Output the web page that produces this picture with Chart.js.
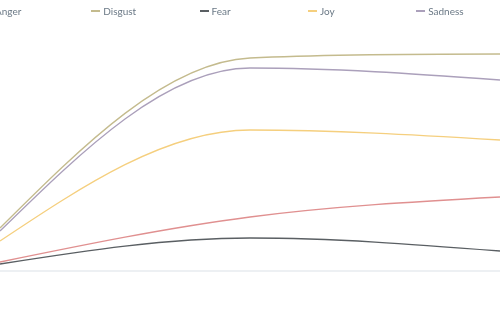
<!DOCTYPE html>
<html>
<head>
<meta charset="utf-8">
<script src="https://cdn.jsdelivr.net/npm/chart.js@4"></script>
<style>
    body { margin: 0; background: #fff; overflow: hidden; }
    #wrap { position: relative; width: 500px; height: 330px; }
    #legend { position: absolute; top: 4px; left: -17px; display: flex; white-space: nowrap; }
    #legend .item { width: 108.3px; display: flex; align-items: center; font: 10px Lato, sans-serif; color: #6b7986; height: 14px; }
    #legend .mark { width: 9px; height: 1.5px; margin-right: 3px; }
</style>
</head>
<body>
<div id="wrap">
    <div id="legend"></div>
    <canvas id="emotionChart"></canvas>
</div>
<script>
// three time steps, hidden on the axis
const labels = ['Start', 'Middle', 'End'];

const emotions = ['Anger', 'Disgust', 'Fear', 'Joy', 'Sadness'];
const colors = ['#e09090', '#c4bb8e', '#5a5f63', '#f5cf7e', '#aba0bb'];

const anger = [0.036, 0.216, 0.296];
const disgust = [0.172, 0.852, 0.868];
const fear = [0.028, 0.132, 0.08];
const joy = [0.12, 0.564, 0.524];
const sadness = [0.16, 0.812, 0.764];

const series = [anger, disgust, fear, joy, sadness];

// html legend, evenly spaced like the original
const legend = document.getElementById('legend');
emotions.forEach((name, i) => {
    const item = document.createElement('div');
    item.className = 'item';
    const mark = document.createElement('span');
    mark.className = 'mark';
    mark.style.background = colors[i];
    item.appendChild(mark);
    item.appendChild(document.createTextNode(name));
    legend.appendChild(item);
});

// monotone ends like d3's curveMonotoneX: end slope = (3*secant - inner slope) / 2
const monotoneEnds = {
    id: 'monotoneEnds',
    beforeDatasetDraw(chart, args) {
        const line = args.meta.dataset;
        line.updateControlPoints(chart.chartArea, 'x');
        const pts = line.points;
        const n = pts.length;
        if (n < 3) return;

        let a = pts[0], b = pts[1];
        let h = b.x - a.x;
        let inner = (b.cp1y - b.y) / (b.cp1x - b.x);
        let m = (3 * (b.y - a.y) / h - inner) / 2;
        a.cp2x = a.x + h / 3;
        a.cp2y = a.y + m * h / 3;

        a = pts[n - 2]; b = pts[n - 1];
        h = b.x - a.x;
        inner = (a.cp2y - a.y) / (a.cp2x - a.x);
        m = (3 * (b.y - a.y) / h - inner) / 2;
        b.cp1x = b.x - h / 3;
        b.cp1y = b.y - m * h / 3;
    }
};

const ctx = document.getElementById('emotionChart').getContext('2d');
new Chart(ctx, {
    type: 'line',
    data: {
        labels: labels,
        datasets: emotions.map((name, i) => ({
            label: name,
            data: series[i],
            borderColor: colors[i],
            backgroundColor: colors[i],
            borderWidth: 1.3,
            pointRadius: 0,
            cubicInterpolationMode: 'monotone',
            fill: false
        }))
    },
    options: {
        responsive: true,
        maintainAspectRatio: false,
        animation: false,
        layout: { padding: { top: 21, bottom: 59, left: 0, right: 0 } },
        plugins: {
            legend: { display: false },
            tooltip: { enabled: false }
        },
        scales: {
            x: {
                display: true,
                offset: false,
                ticks: { display: false },
                grid: { display: false, drawTicks: false },
                border: { display: true, color: '#edf0f3', width: 2 }
            },
            y: {
                display: false,
                min: 0,
                max: 1
            }
        }
    },
    plugins: [monotoneEnds]
});
</script>
</body>
</html>
